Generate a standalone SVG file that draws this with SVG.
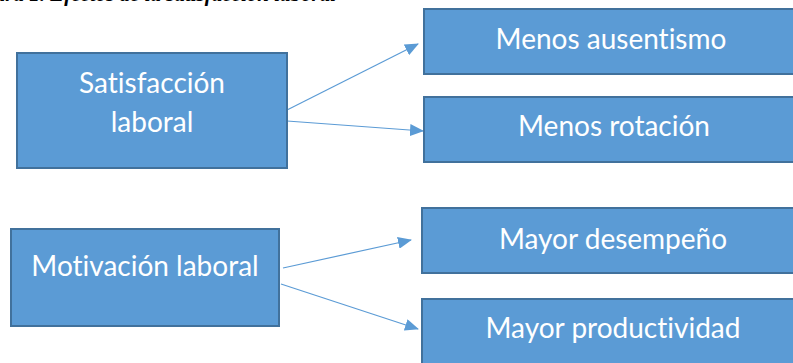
<svg xmlns="http://www.w3.org/2000/svg" width="793" height="363" viewBox="0 0 793 363">
<style>
.box{fill:#5B9BD5;stroke:#41719C;stroke-width:2}
.lbl{fill:#FFFFFF;font-family:Lato,"Open Sans","Liberation Sans",sans-serif;font-size:28px;text-anchor:middle;font-variant-ligatures:none}
.con{stroke:#5B9BD5;stroke-width:1.2;fill:none;marker-end:url(#ah)}
.title{font-family:"Liberation Serif",serif;font-weight:bold;font-style:italic;font-size:21px;fill:#000}
</style>
<defs>
<marker id="ah" markerUnits="userSpaceOnUse" markerWidth="14" markerHeight="12" refX="13" refY="6" orient="auto" viewBox="0 0 14 12">
<path d="M0,0 L14,6 L0,12 Z" fill="#5B9BD5"/>
</marker>
</defs>
<rect width="793" height="363" fill="#FFFFFF"/>
<text class="title" x="336" y="1" text-anchor="end">Figura 1. Efectos de la satisfacción laboral</text>
<g id="connectors">
<line class="con" x1="287" y1="110" x2="418" y2="44"/>
<line class="con" x1="287" y1="121" x2="423" y2="131"/>
<line class="con" x1="283" y1="268" x2="411" y2="240"/>
<line class="con" x1="281" y1="284" x2="418" y2="329"/>
</g>
<g id="satisfaccion">
<rect class="box" x="17" y="53" width="270" height="115"/>
<text class="lbl" x="152" y="93">Satisfacción</text>
<text class="lbl" x="152" y="132">laboral</text>
</g>
<g id="ausentismo">
<rect class="box" x="424" y="9" width="380" height="65"/>
<text class="lbl" x="611" y="49">Menos ausentismo</text>
</g>
<g id="rotacion">
<rect class="box" x="424" y="97" width="380" height="65"/>
<text class="lbl" x="614" y="136">Menos rotación</text>
</g>
<g id="motivacion">
<rect class="box" x="11" y="229" width="268" height="97"/>
<text class="lbl" x="145" y="276">Motivación laboral</text>
</g>
<g id="desempeno">
<rect class="box" x="422" y="208" width="380" height="65"/>
<text class="lbl" x="613" y="249">Mayor desempeño</text>
</g>
<g id="productividad">
<rect class="box" x="422" y="299" width="380" height="80"/>
<text class="lbl" x="613" y="338">Mayor productividad</text>
</g>
</svg>
